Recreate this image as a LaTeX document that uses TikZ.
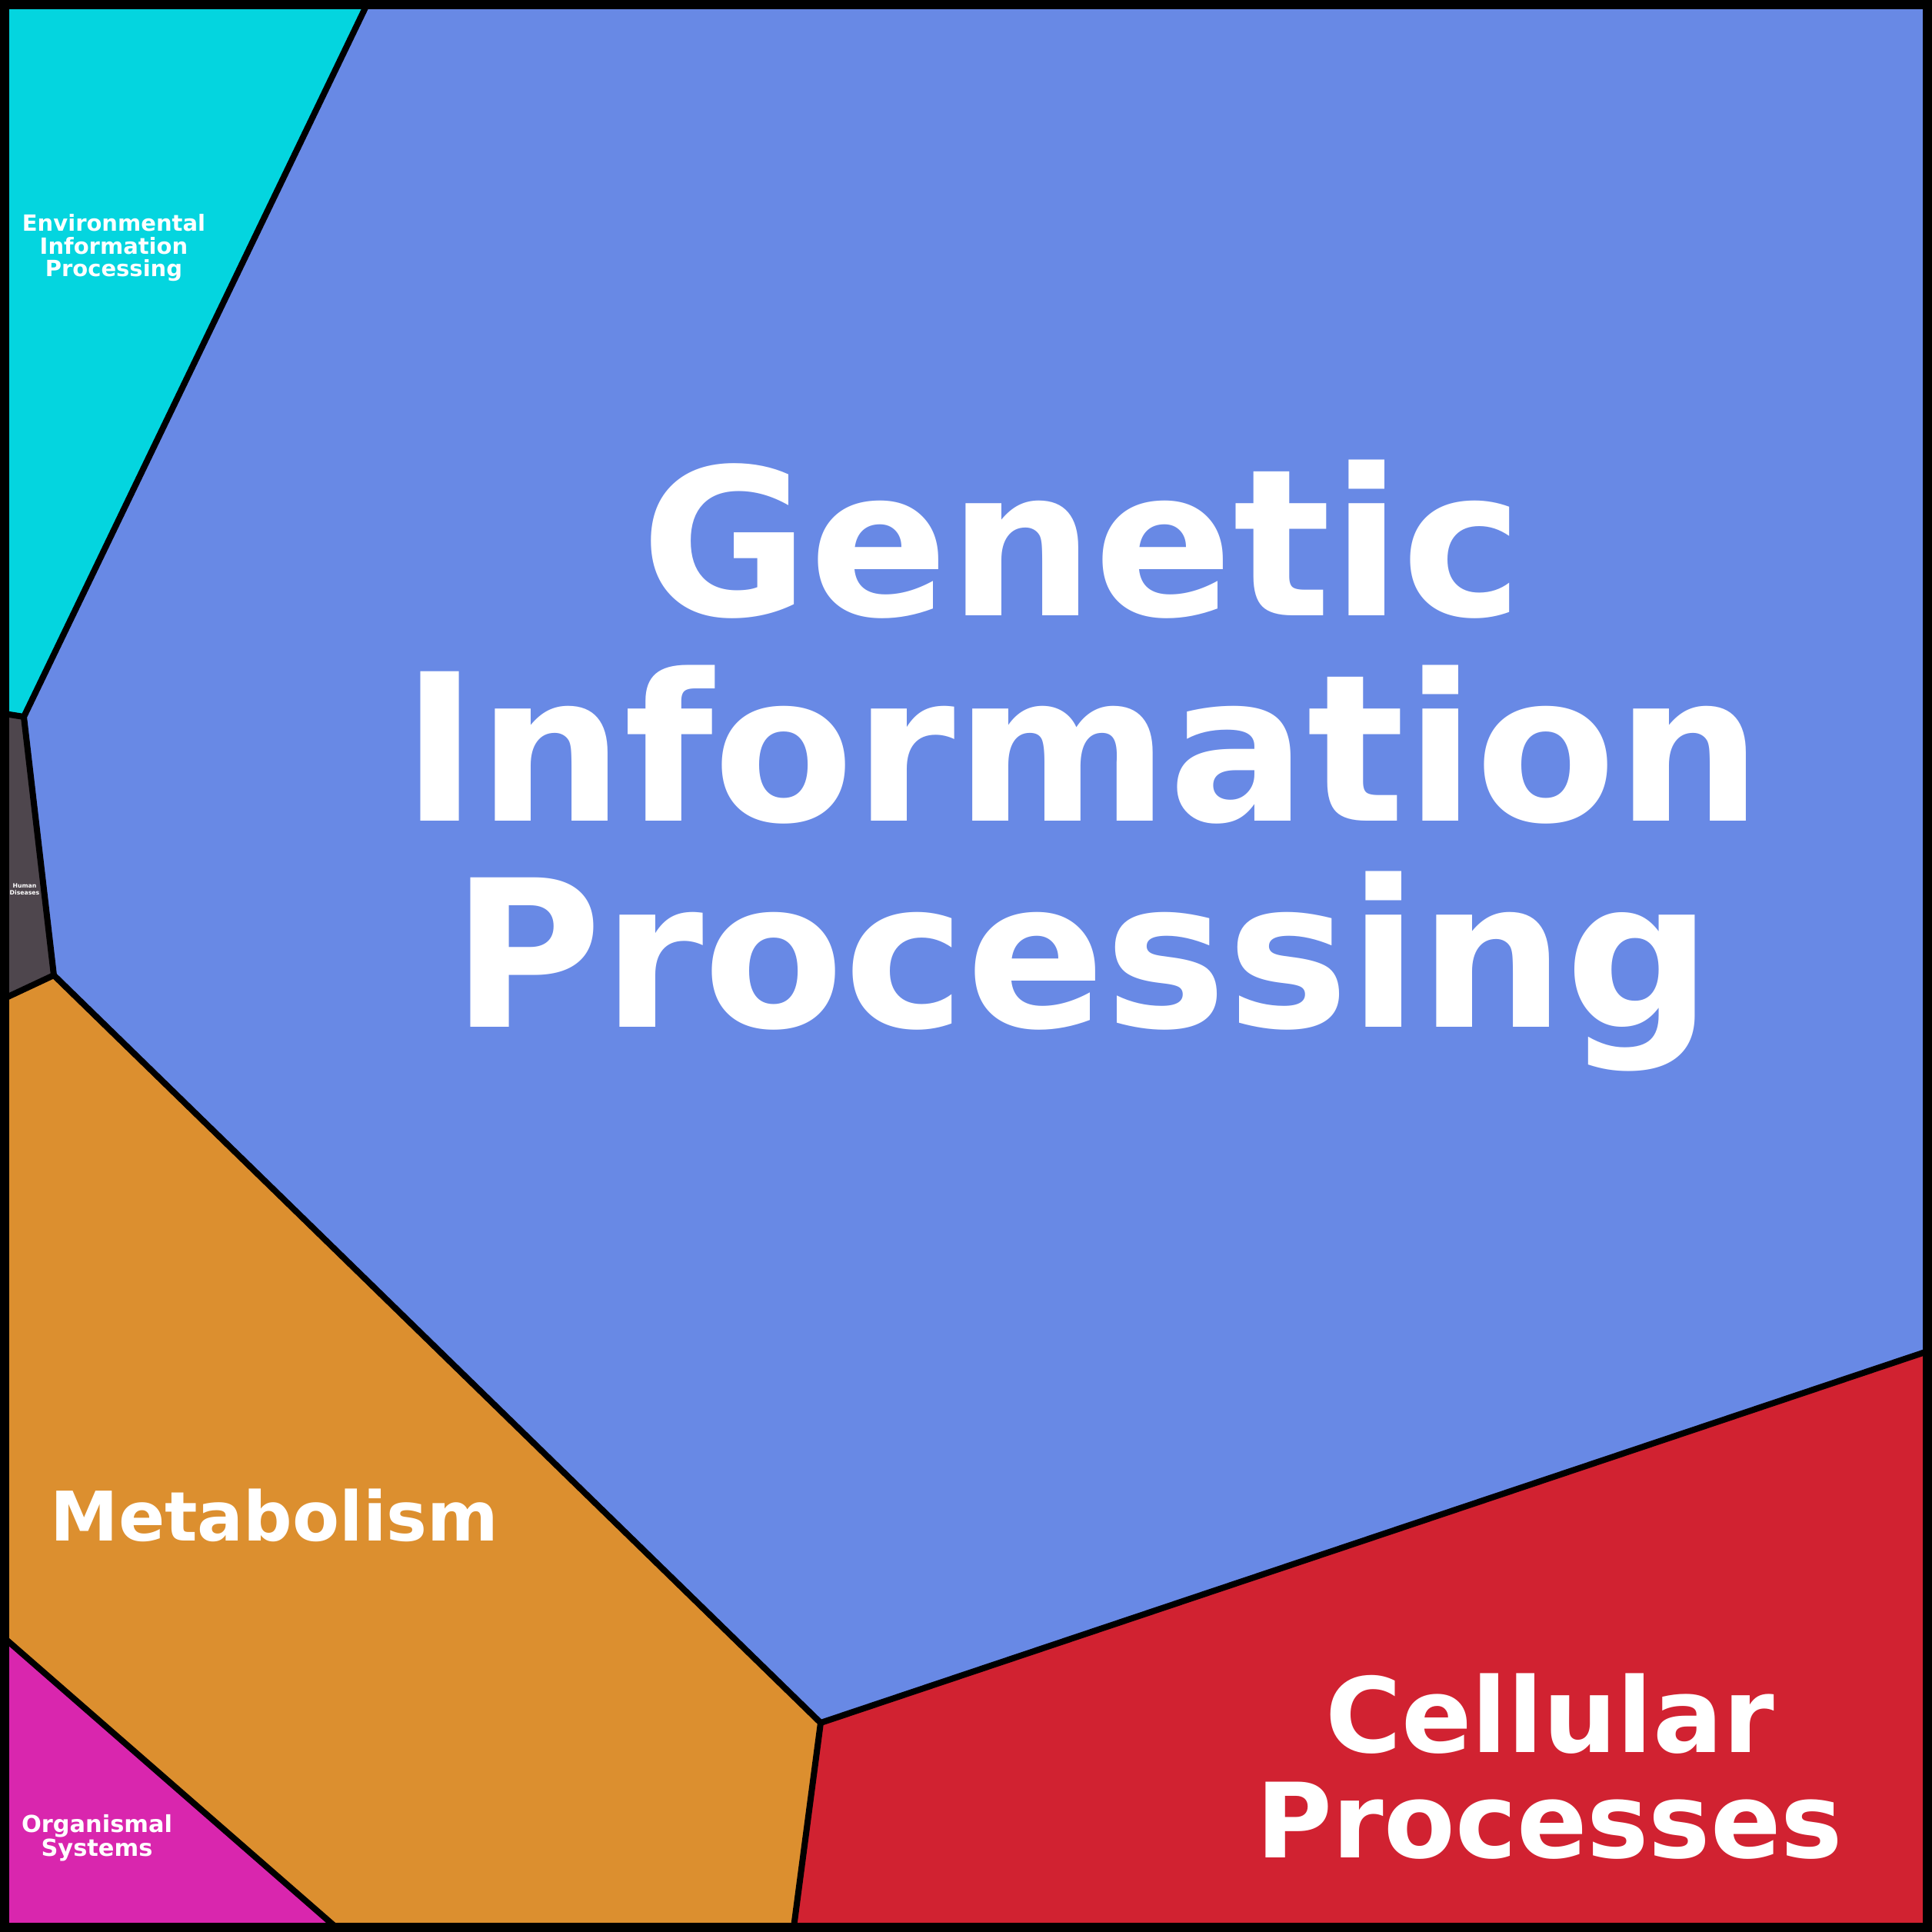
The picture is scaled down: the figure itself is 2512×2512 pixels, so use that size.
\documentclass[tikz,border=0pt]{standalone}
\usepackage{fontspec}
\setmainfont{DejaVu Sans}
\usepackage{tikz}
\usetikzlibrary{calc}
\definecolor{envcol}{RGB}{4,213,223}
\definecolor{gencol}{RGB}{104,137,229}
\definecolor{humcol}{RGB}{78,70,77}
\definecolor{metcol}{RGB}{220,143,47}
\definecolor{orgcol}{RGB}{217,38,174}
\definecolor{celcol}{RGB}{209,34,49}
\tikzstyle{cell}=[line width=0.08cm, line join=round]
\tikzstyle{lab}=[text=white, font=\bfseries, align=center, inner sep=0pt, anchor=base]

\begin{document}
\begin{tikzpicture}[x=0.01cm, y=-0.01cm]
\useasboundingbox (0,0) rectangle (2512,2512);
% corners of the cells
\coordinate (tl) at (6,6);
\coordinate (tr) at (2506,6);
\coordinate (br) at (2506,2506);
\coordinate (bl) at (6,2506);
\coordinate (a) at (477,6);
\coordinate (b) at (31,932);
\coordinate (c) at (6,928);
\coordinate (d) at (70,1268);
\coordinate (e) at (6,1298);
\coordinate (f) at (1067,2240);
\coordinate (g) at (2506,1757);
\coordinate (h) at (1032,2506);
\coordinate (i) at (6,2130);
\coordinate (j) at (437,2506);
% fill the cells
\fill[envcol] (tl) -- (a) -- (b) -- (c) -- cycle;
\fill[gencol] (a) -- (tr) -- (g) -- (f) -- (d) -- (b) -- cycle;
\fill[humcol] (c) -- (b) -- (d) -- (e) -- cycle;
\fill[metcol] (e) -- (d) -- (f) -- (h) -- (j) -- (i) -- cycle;
\fill[orgcol] (i) -- (j) -- (bl) -- cycle;
\fill[celcol] (f) -- (g) -- (br) -- (h) -- cycle;
% borders between cells
\draw[cell] (a) -- (b) -- (c);
\draw[cell] (b) -- (d) -- (e);
\draw[cell] (d) -- (f) -- (g);
\draw[cell] (f) -- (h);
\draw[cell] (i) -- (j);
\draw[line width=0.12cm] (tl) rectangle (br); % outer frame
% labels (base = baseline of last line)
\node[lab, font=\bfseries\fontsize{75.8}{76}\selectfont] (gen) at (1407,1335) {Genetic\\Information\\Processing};
\node[lab, font=\bfseries\fontsize{38.4}{38.8}\selectfont] (cel) at (2015,2415) {Cellular\\Processes};
\node[lab, font=\bfseries\fontsize{25.3}{26}\selectfont] (met) at (357,2003) {Metabolism};
\node[lab, font=\bfseries\fontsize{8.25}{8.4}\selectfont] (env) at (148,360) {Environmental\\Information\\Processing};
\node[lab, font=\bfseries\fontsize{8.65}{8.8}\selectfont] (org) at (126,2413) {Organismal\\Systems};
\node[lab, font=\bfseries\fontsize{2.2}{2.3}\selectfont] (hum) at (32,1163) {Human\\Diseases};
\end{tikzpicture}
\end{document}
